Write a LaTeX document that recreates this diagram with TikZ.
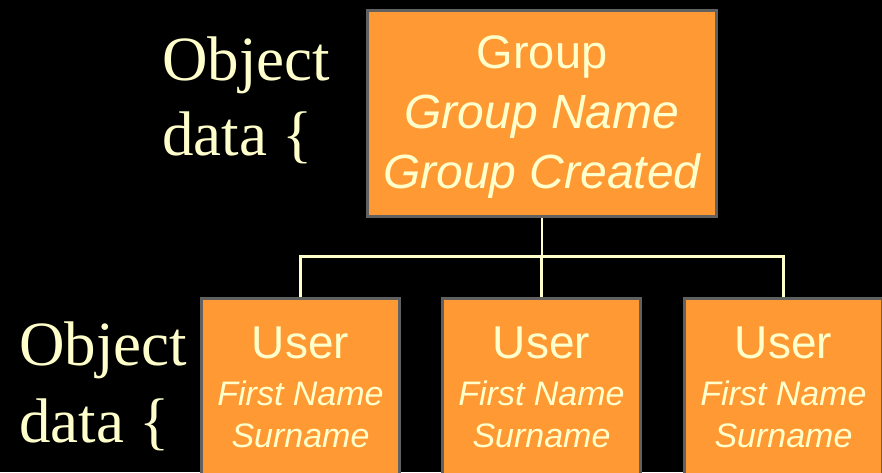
\documentclass[tikz,border=0pt]{standalone}
\usepackage{fontspec}
\setmainfont{Liberation Serif}
\newfontfamily\arialf{Liberation Sans}
\definecolor{boxorange}{HTML}{FF9933}
\definecolor{boxedge}{HTML}{616161}
\definecolor{paletext}{HTML}{FFFFCC}
\tikzset{
  objbox/.style={draw=boxedge, line width=3pt, fill=boxorange, inner sep=0pt, outer sep=0pt, anchor=north west},
  conn/.style={draw=paletext, line width=2.6pt},
  boxtxt/.style={text=paletext, inner sep=0pt, anchor=base, font=\arialf},
  sidetxt/.style={text=paletext, inner sep=0pt, anchor=base west, font=\fontsize{63}{70}\selectfont},
}
\begin{document}
\begin{tikzpicture}[x=1pt,y=-1pt]
\fill[black] (0,0) rectangle (882,472);
\useasboundingbox (0,0) rectangle (882,472);
\clip (0,0) rectangle (882,472);
% boxes
\node[objbox, minimum width=349pt, minimum height=206pt] (g) at (367.5,10.5) {};
\node[objbox, minimum width=198pt, minimum height=220pt] (u1) at (201.5,298.5) {};
\node[objbox, minimum width=198pt, minimum height=220pt] (u2) at (442.5,298.5) {};
\node[objbox, minimum width=198pt, minimum height=220pt] (u3) at (684.5,298.5) {};
% connectors
\coordinate (bus) at ([yshift=-40pt]g.south);
\draw[conn, shorten <=1.5pt] (g.south) -- (bus);
\draw[conn, shorten <=1.5pt, shorten >=1.5pt] (u1.north) |- (u3.north |- bus) -- (u3.north);
\draw[conn, shorten >=1.5pt] (u2.north |- bus) -- (u2.north);
% group text
\node[boxtxt, font=\arialf\fontsize{47}{56}\selectfont] (gt1) at (542,68) {Group};
\node[boxtxt, font=\arialf\itshape\fontsize{48}{56}\selectfont] (gt2) at (542,128) {Group Name};
\node[boxtxt, font=\arialf\itshape\fontsize{48}{56}\selectfont] (gt3) at (542,188) {Group Created};
% user texts
\foreach \n/\x in {1/300.5, 2/541.5, 3/783.5} {
  \node[boxtxt, font=\arialf\fontsize{46}{54}\selectfont] (ut\n a) at (\x,358) {User};
  \node[boxtxt, font=\arialf\itshape\fontsize{34}{40}\selectfont] (ut\n b) at (\x,405) {First Name};
  \node[boxtxt, font=\arialf\itshape\fontsize{34}{40}\selectfont] (ut\n c) at (\x,447) {Surname};
}
% side labels
\node[sidetxt] (s1) at (162,80) {Object};
\node[sidetxt] (s2) at (162,155) {data \{};
\node[sidetxt] (s3) at (19,365) {Object};
\node[sidetxt] (s4) at (19,442) {data \{};
\end{tikzpicture}
\end{document}
